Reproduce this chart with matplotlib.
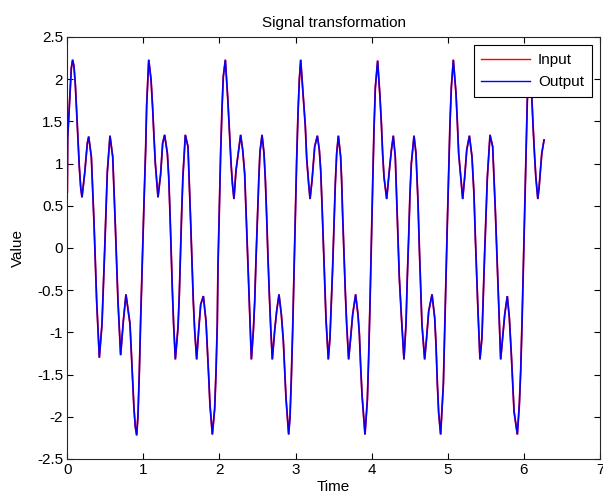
import matplotlib
matplotlib.use("Agg")
import matplotlib.pyplot as plt
import numpy as np

plt.rcParams['font.family'] = ['Liberation Sans Narrow', 'Liberation Sans', 'DejaVu Sans']

t_c0 = [0.0, 0.005, 0.035, 0.053, 0.07, 0.088, 0.106, 0.123, 0.14, 0.158, 0.176, 0.193,
        0.228, 0.263, 0.281, 0.316, 0.351, 0.386, 0.404, 0.421, 0.456, 0.491, 0.526,
        0.561, 0.597, 0.631, 0.666, 0.701, 0.736, 0.771, 0.824, 0.859, 0.876, 0.894,
        0.912, 0.929, 0.947, 0.964, 0.986, 1.008, 1.03, 1.043]
v_c0 = [0.66, 1.30, 1.81, 2.13, 2.23, 2.15, 1.93, 1.61, 1.28, 0.96, 0.72, 0.60,
        0.88, 1.24, 1.32, 1.08, 0.30, -0.63, -0.98, -1.30, -0.90, -0.03, 0.90,
        1.33, 1.08, 0.27, -0.63, -1.27, -0.87, -0.55, -0.90, -1.56, -1.90, -2.12,
        -2.22, -1.98, -1.46, -0.85, -0.15, 0.54, 1.18, 1.69]

t_c1 = [1.07, 1.10, 1.122, 1.139, 1.157, 1.192, 1.227, 1.253, 1.279, 1.315, 1.333,
        1.35, 1.366, 1.381, 1.397, 1.42, 1.455, 1.472, 1.487, 1.503, 1.519, 1.551,
        1.586, 1.604, 1.621, 1.639, 1.656, 1.674, 1.70, 1.726, 1.753, 1.788, 1.823,
        1.84, 1.858, 1.875, 1.906, 1.937, 1.954, 1.971, 1.98, 1.998, 2.015, 2.033, 2.05]
v_c1 = [2.23, 2.00, 1.65, 1.32, 1.00, 0.60, 0.88, 1.24, 1.34, 1.12, 0.84,
        0.40, -0.07, -0.51, -0.90, -1.32, -0.94, -0.55, -0.07, 0.42, 0.84, 1.34,
        1.20, 0.76, 0.31, -0.17, -0.63, -0.98, -1.32, -0.98, -0.67, -0.57, -0.87,
        -1.18, -1.52, -1.86, -2.21, -1.90, -1.48, -0.90, -0.23, 0.44, 1.12, 1.65, 2.03]

t_c2 = [2.077, 2.11, 2.134, 2.152, 2.17, 2.19, 2.217, 2.252, 2.278, 2.305, 2.331,
        2.348, 2.366, 2.384, 2.401, 2.419, 2.445, 2.463, 2.48, 2.498, 2.516, 2.532,
        2.559, 2.585, 2.603, 2.62, 2.637, 2.655, 2.673, 2.694, 2.725, 2.751, 2.782,
        2.813, 2.839, 2.857, 2.874, 2.909, 2.927, 2.944, 2.962, 2.979, 2.997, 3.014,
        3.032, 3.049]
v_c2 = [2.23, 1.75, 1.32, 1.00, 0.76, 0.58, 0.92, 1.16, 1.34, 1.16, 0.88,
        0.46, 0.01, -0.45, -0.87, -1.32, -0.98, -0.63, -0.13, 0.35, 0.80, 1.14,
        1.34, 1.12, 0.80, 0.37, -0.11, -0.55, -0.94, -1.32, -0.98, -0.75, -0.55,
        -0.79, -1.10, -1.46, -1.78, -2.21, -2.00, -1.54, -0.96, -0.29, 0.38, 1.04,
        1.60, 1.99]

t_c3 = [3.067, 3.102, 3.128, 3.146, 3.172, 3.19, 3.216, 3.233, 3.251, 3.286, 3.312,
        3.33, 3.347, 3.365, 3.383, 3.40, 3.43, 3.452, 3.469, 3.487, 3.505, 3.522,
        3.54, 3.562, 3.592, 3.605, 3.618, 3.636, 3.653, 3.671, 3.697, 3.724, 3.75,
        3.789, 3.82, 3.838, 3.855, 3.873, 3.912, 3.943, 3.96, 3.978, 3.995, 4.013,
        4.03, 4.048]
v_c3 = [2.23, 1.77, 1.44, 1.06, 0.76, 0.58, 0.80, 1.00, 1.20, 1.33, 1.16,
        0.92, 0.52, 0.05, -0.43, -0.85, -1.32, -1.06, -0.67, -0.23, 0.29, 0.76,
        1.12, 1.33, 1.08, 0.80, 0.40, -0.07, -0.51, -0.90, -1.32, -1.06, -0.79,
        -0.55, -0.79, -1.02, -1.40, -1.74, -2.21, -1.80, -1.30, -0.65, 0.05, 0.75,
        1.40, 1.90]

t_c4 = [4.078, 4.109, 4.127, 4.144, 4.162, 4.197, 4.232, 4.259, 4.284, 4.31, 4.328,
        4.345, 4.363, 4.389, 4.424, 4.451, 4.468, 4.486, 4.503, 4.521, 4.556, 4.582,
        4.608, 4.626, 4.644, 4.66, 4.696, 4.722, 4.749, 4.793, 4.828, 4.845, 4.863,
        4.88, 4.906, 4.942, 4.959, 4.977, 4.994, 5.012, 5.029, 5.047]
v_c4 = [2.22, 1.79, 1.48, 1.12, 0.84, 0.58, 0.92, 1.16, 1.33, 1.08, 0.60,
        0.13, -0.35, -0.79, -1.32, -0.90, -0.35, 0.13, 0.64, 1.00, 1.33, 1.12,
        0.56, 0.01, -0.47, -0.90, -1.32, -1.06, -0.75, -0.55, -0.83, -1.14, -1.61,
        -1.95, -2.21, -1.61, -0.98, -0.35, 0.29, 0.92, 1.48, 1.91]

t_c5 = [5.073, 5.108, 5.126, 5.143, 5.17, 5.196, 5.222, 5.249, 5.284, 5.318, 5.344,
        5.362, 5.379, 5.397, 5.423, 5.449, 5.467, 5.484, 5.502, 5.52, 5.555, 5.59,
        5.607, 5.625, 5.642, 5.66, 5.678, 5.695, 5.721, 5.748, 5.782, 5.809, 5.835,
        5.853, 5.871, 5.914, 5.94, 5.958, 5.976, 5.993, 6.011, 6.028, 6.045]
v_c5 = [2.23, 1.83, 1.48, 1.12, 0.84, 0.58, 0.84, 1.16, 1.33, 1.08, 0.64,
        0.13, -0.31, -0.75, -1.32, -1.06, -0.55, -0.07, 0.40, 0.84, 1.34, 1.20,
        0.84, 0.44, 0.01, -0.43, -0.87, -1.32, -1.06, -0.79, -0.57, -0.83, -1.26,
        -1.61, -1.94, -2.21, -1.86, -1.46, -0.87, -0.23, 0.40, 1.12, 1.75]

t_c6 = [6.07, 6.104, 6.121, 6.139, 6.157, 6.183, 6.2, 6.218, 6.235, 6.265]
v_c6 = [2.22, 1.79, 1.44, 1.12, 0.84, 0.58, 0.72, 0.92, 1.12, 1.28]

time = np.array(t_c0 + t_c1 + t_c2 + t_c3 + t_c4 + t_c5 + t_c6)
signal = np.array(v_c0 + v_c1 + v_c2 + v_c3 + v_c4 + v_c5 + v_c6)

x_ticks = [0, 1, 2, 3, 4, 5, 6, 7]
y_ticks = [-2.5, -2, -1.5, -1, -0.5, 0, 0.5, 1, 1.5, 2, 2.5]
y_tick_labels = ['-2.5', '-2', '-1.5', '-1', '-0.5', '0', '0.5', '1', '1.5', '2', '2.5']

fig = plt.figure(figsize=(6.03, 4.99), dpi=100)
ax = fig.add_axes([0.1116, 0.0802, 0.8834, 0.8457])

ax.plot(time, signal, color='#ff0000', lw=1.3, solid_joinstyle='miter', label='Input')
ax.plot(time, signal, color='#0000ff', lw=1.1, solid_joinstyle='miter', label='Output')

ax.set_xlim(0, 7)
ax.set_ylim(-2.5, 2.5)
ax.set_xticks(x_ticks)
ax.set_xticklabels([str(v) for v in x_ticks])
ax.set_yticks(y_ticks)
ax.set_yticklabels(y_tick_labels)
ax.tick_params(direction='in', length=4, width=0.8, top=True, right=True,
               labelsize=11, pad=3, colors='black')
for s in ax.spines.values():
    s.set_linewidth(0.8)
    s.set_color('#262626')

ax.set_title('Signal transformation', fontsize=11, pad=7)
ax.set_xlabel('Time', fontsize=11, labelpad=2)
ax.set_ylabel('Value', fontsize=11, labelpad=9)

leg = ax.legend(loc='upper right', fontsize=11, frameon=True, fancybox=False,
                framealpha=1.0, edgecolor='black', handlelength=3.2,
                borderaxespad=0.55, borderpad=0.5, labelspacing=0.55, handletextpad=0.5)
leg.get_frame().set_linewidth(0.8)
for h in leg.get_lines():
    h.set_linewidth(1.0)

fig.savefig('out.png', dpi=100)
